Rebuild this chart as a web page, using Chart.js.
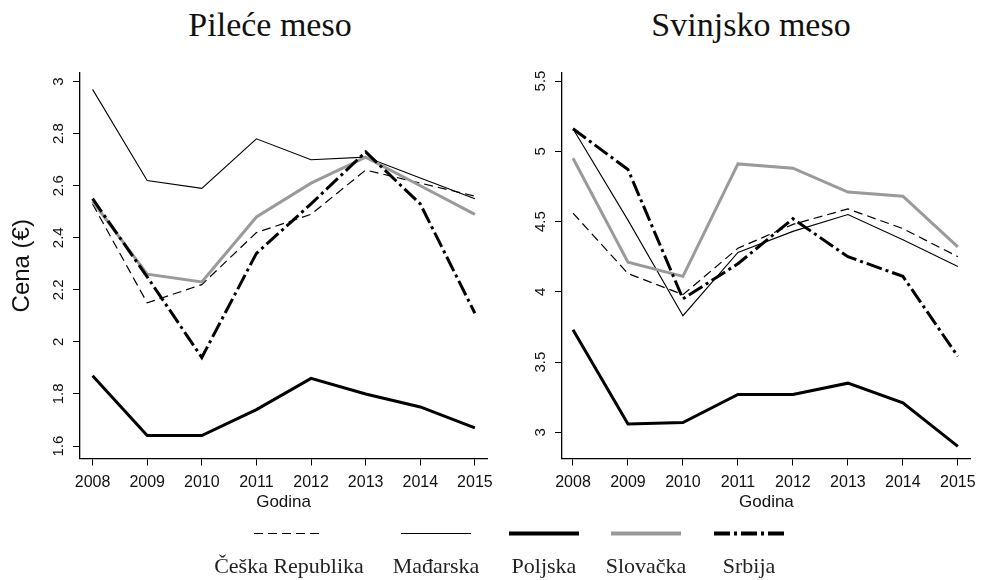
<!DOCTYPE html>
<html><head><meta charset="utf-8">
<script src="https://cdn.jsdelivr.net/npm/chart.js@4/dist/chart.umd.min.js"></script>
<style>
html,body{margin:0;padding:0;background:#fff;width:983px;height:580px;overflow:hidden;position:relative}
canvas{position:absolute;top:0}
.title{position:absolute;top:8px;font-family:"Liberation Serif","Times New Roman",serif;font-size:34px;color:#111;white-space:nowrap;transform:translateX(-50%);line-height:1}
.leg{position:absolute;top:555px;font-family:"Liberation Serif","Times New Roman",serif;font-size:22px;color:#222;white-space:nowrap;transform:translateX(-50%);line-height:1}
svg{position:absolute;left:0;top:0}
</style></head><body>
<div class="title" style="left:270px">Pileće meso</div>
<div class="title" style="left:751px">Svinjsko meso</div>
<canvas id="c1" width="500" height="514" style="left:0px;width:500px;height:514px"></canvas>
<canvas id="c2" width="501" height="514" style="left:482px;width:501px;height:514px"></canvas>
<svg id="legsvg" width="983" height="580"></svg>
<div id="legtext"></div>
<script>
// ---- data ----
const years = [2008, 2009, 2010, 2011, 2012, 2013, 2014, 2015];
const countries = ['Češka Republika', 'Mađarska', 'Poljska', 'Slovačka', 'Srbija'];

// Pileće meso (€)
const chickenCZ = [2.53, 2.15, 2.22, 2.42, 2.49, 2.66, 2.61, 2.56];
const chickenHU = [2.97, 2.62, 2.59, 2.78, 2.70, 2.71, 2.63, 2.55];
const chickenPL = [1.87, 1.64, 1.64, 1.74, 1.86, 1.80, 1.75, 1.67];
const chickenSK = [2.54, 2.26, 2.23, 2.48, 2.61, 2.71, 2.60, 2.49];
const chickenRS = [2.55, 2.25, 1.94, 2.34, 2.53, 2.73, 2.53, 2.11];

// Svinjsko meso (€)
const porkCZ = [4.56, 4.13, 3.98, 4.31, 4.48, 4.59, 4.45, 4.25];
const porkHU = [5.16, 4.51, 3.83, 4.28, 4.43, 4.55, 4.37, 4.18];
const porkPL = [3.73, 3.06, 3.07, 3.27, 3.27, 3.35, 3.21, 2.90];
const porkSK = [4.95, 4.21, 4.11, 4.91, 4.88, 4.71, 4.68, 4.32];
const porkRS = [5.16, 4.87, 3.95, 4.20, 4.52, 4.25, 4.11, 3.54];

const chickenTicks = [1.6, 1.8, 2, 2.2, 2.4, 2.6, 2.8, 3];
const porkTicks = [3, 3.5, 4, 4.5, 5, 5.5];

// ---- styles ----
const lineColors = ['#000000', '#000000', '#000000', '#9a9a9a', '#000000'];
const lineWidths = [1.2, 1.1, 3, 3, 3];
const lineDashes = [[9, 5], [], [], [], [16, 4, 3, 4]];
const drawOrder = [5, 4, 3, 2, 1];

const sansFont = '"Liberation Sans", Arial, sans-serif';

function makeDatasets(series) {
  return series.map((vals, i) => ({
    label: countries[i],
    data: vals.map((v, k) => ({x: years[k], y: v})),
    borderColor: lineColors[i],
    borderWidth: lineWidths[i],
    borderDash: lineDashes[i],
    pointRadius: 0,
    tension: 0,
    fill: false,
    order: drawOrder[i]
  }));
}

function makeChart(id, series, yMin, yMax, yTicks, xMin, xMax, yTitle, padRight) {
  return new Chart(document.getElementById(id), {
    type: 'line',
    data: {datasets: makeDatasets(series)},
    options: {
      responsive: false,
      animation: false,
      devicePixelRatio: 1,
      layout: {padding: {top: 73, right: padRight, left: 0, bottom: 0}},
      plugins: {legend: {display: false}, tooltip: {enabled: false}, title: {display: false}},
      scales: {
        x: {
          type: 'linear',
          min: xMin, max: xMax,
          afterBuildTicks: a => { a.ticks = years.map(v => ({value: v})); },
          afterFit: a => { a.height = 55.5; },
          grid: {display: true, drawOnChartArea: false, drawTicks: true, tickLength: 7, color: '#000', lineWidth: 1},
          border: {display: true, color: '#000', width: 1.3},
          ticks: {color: '#111', font: {family: sansFont, size: 16}, padding: 7, maxRotation: 0, minRotation: 0,
                  callback: v => String(v)},
          title: {display: true, text: 'Godina', color: '#111', font: {family: sansFont, size: 17}, padding: {top: 0, bottom: 1}}
        },
        y: {
          type: 'linear',
          min: yMin, max: yMax,
          afterBuildTicks: a => { a.ticks = yTicks.map(v => ({value: v})); },
          afterFit: a => { a.width = 80; },
          grid: {display: true, drawOnChartArea: false, drawTicks: true, tickLength: 7, color: '#000', lineWidth: 1},
          border: {display: true, color: '#000', width: 1.3},
          ticks: {color: '#111', font: {family: sansFont, size: 15}, padding: 4, minRotation: 90, maxRotation: 90,
                  crossAlign: 'center', callback: v => String(Math.round(v * 10) / 10)},
          title: {display: !!yTitle, text: yTitle || '', color: '#111', font: {family: sansFont, size: 24}, padding: {top: 8, bottom: 0}}
        }
      }
    }
  });
}

const c1 = makeChart('c1', [chickenCZ, chickenHU, chickenPL, chickenSK, chickenRS], 1.552, 3.033, chickenTicks, 2007.77, 2015.225, 'Cena (€)', 10);
const c2 = makeChart('c2', [porkCZ, porkHU, porkPL, porkSK, porkRS], 2.814, 5.557, porkTicks, 2007.8, 2015.236, '', 11);

// ---- legend (line sample above label) ----
const legendCenters = [289, 436, 544, 646, 749];
const legLineY = 533.5, legHalf = 35;
const svg = document.getElementById('legsvg');
const lt = document.getElementById('legtext');
countries.forEach((name, i) => {
  const ds = c1.data.datasets[i];
  const cx = legendCenters[i];
  const ln = document.createElementNS('http://www.w3.org/2000/svg', 'line');
  ln.setAttribute('x1', cx - legHalf); ln.setAttribute('x2', cx + legHalf);
  ln.setAttribute('y1', legLineY); ln.setAttribute('y2', legLineY);
  ln.setAttribute('stroke', ds.borderColor);
  ln.setAttribute('stroke-width', ds.borderWidth + (ds.borderWidth > 2 ? 1 : 0));
  if (ds.borderDash.length) ln.setAttribute('stroke-dasharray', ds.borderDash.join(','));
  svg.appendChild(ln);
  const d = document.createElement('div');
  d.className = 'leg';
  d.style.left = cx + 'px';
  d.textContent = name;
  lt.appendChild(d);
});
</script>
</body></html>
